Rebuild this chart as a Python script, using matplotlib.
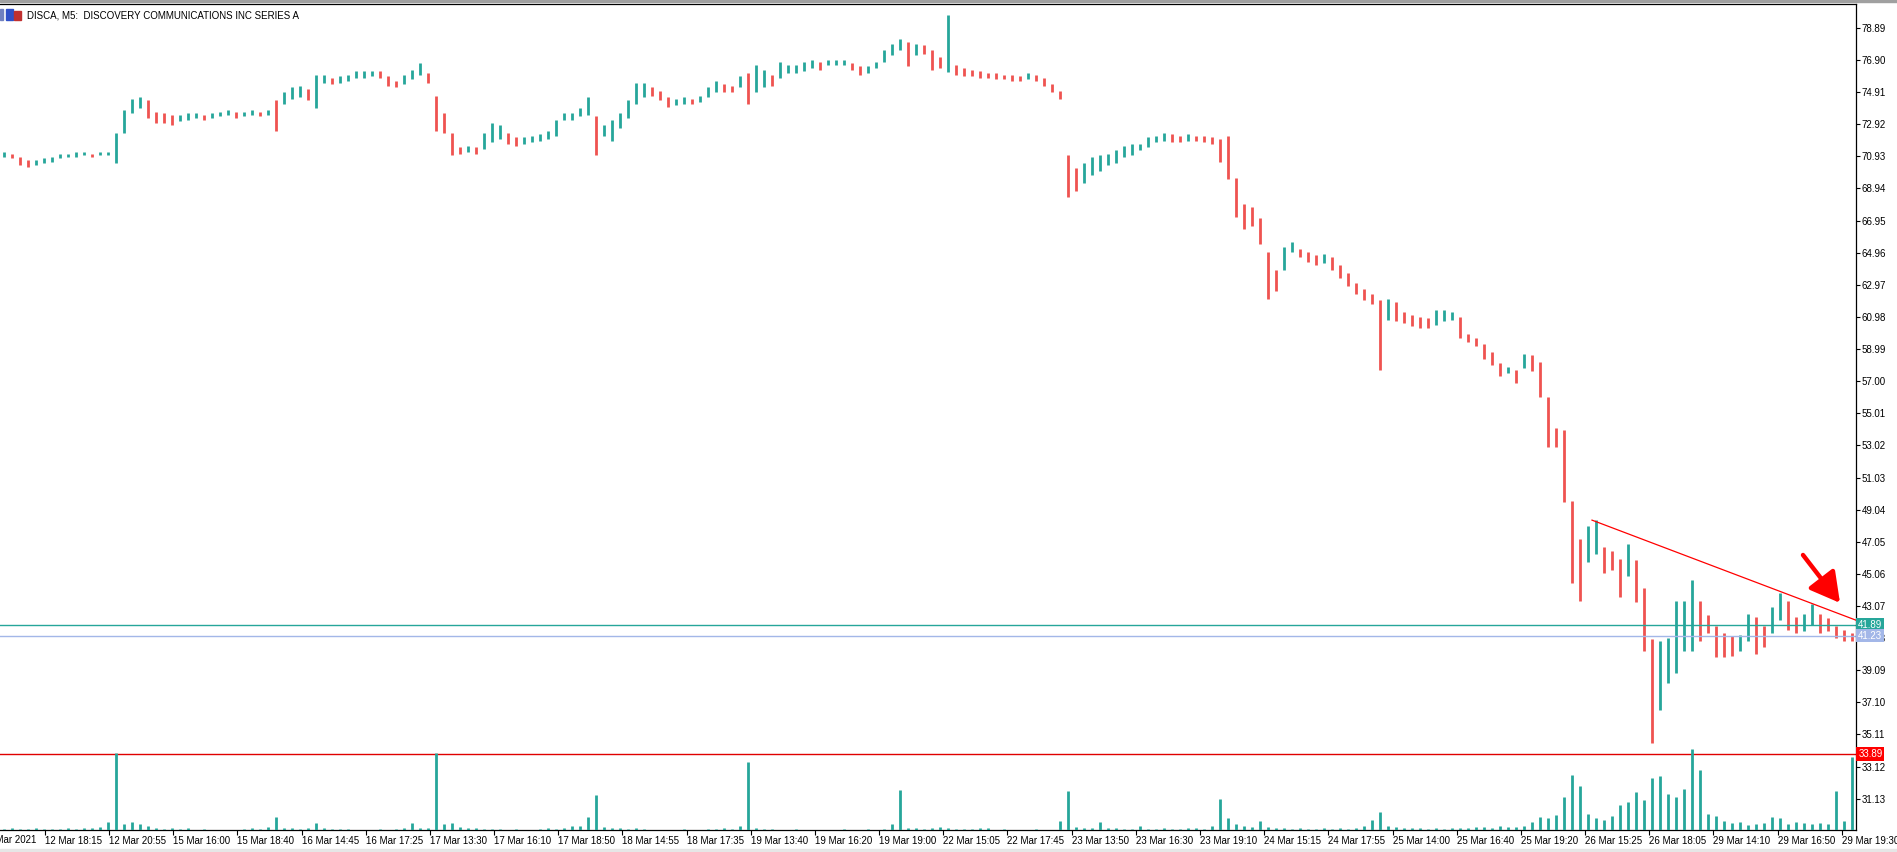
import numpy as np
import matplotlib.pyplot as plt
from matplotlib.patches import Rectangle

plt.rcParams['font.family'] = ['Liberation Sans', 'DejaVu Sans']

# 20-minute bars (4 x M5): low / high of each bar
lo = [
    70.9, 70.8, 70.4, 70.3, 70.4, 70.5, 70.6, 70.8, 70.9, 70.9,
    71.0, 70.9, 71.0, 71.0, 70.5, 72.4, 73.6, 73.9, 73.3, 73.0,
    73.0, 72.9, 73.1, 73.2, 73.3, 73.2, 73.3, 73.4, 73.5, 73.3,
    73.4, 73.5, 73.4, 73.5, 72.5, 74.2, 74.5, 74.6, 74.4, 73.9,
    75.5, 75.4, 75.5, 75.6, 75.8, 75.8, 75.9, 75.8, 75.3, 75.2,
    75.4, 75.7, 76.0, 75.5, 72.5, 72.4, 71.0, 71.1, 71.2, 71.1,
    71.4, 71.8, 72.0, 71.7, 71.6, 71.7, 71.8, 71.9, 72.0, 72.2,
    73.2, 73.2, 73.4, 73.5, 71.0, 72.2, 71.9, 72.7, 73.3, 74.2,
    74.6, 74.7, 74.4, 74.0, 74.1, 74.2, 74.2, 74.3, 74.6, 74.9,
    74.9, 74.9, 75.2, 74.2, 74.9, 75.2, 75.3, 75.8, 76.1, 76.1,
    76.2, 76.4, 76.3, 76.6, 76.6, 76.6, 76.3, 76.0, 76.1, 76.4,
    76.8, 77.2, 77.5, 76.5, 77.2, 77.3, 76.3, 76.4, 76.15, 76.0,
    75.9, 75.9, 75.8, 75.8, 75.7, 75.7, 75.6, 75.6, 75.7, 75.6,
    75.3, 74.9, 74.5, 68.4, 68.8, 69.3, 69.8, 70.0, 70.4, 70.5,
    70.9, 71.0, 71.3, 71.5, 71.8, 71.9, 71.8, 71.8, 71.9, 71.9,
    71.8, 71.7, 70.6, 69.5, 67.2, 66.4, 66.6, 65.5, 62.1, 62.6,
    63.9, 65.0, 64.7, 64.4, 64.2, 64.3, 63.9, 63.4, 62.9, 62.4,
    62.0, 61.8, 57.7, 60.8, 60.7, 60.6, 60.4, 60.3, 60.3, 60.5,
    60.7, 60.8, 59.7, 59.4, 59.2, 58.4, 58.0, 57.3, 57.5, 56.9,
    57.8, 57.6, 56.0, 52.9, 52.9, 49.5, 44.5, 43.4, 45.8, 46.3,
    45.1, 45.3, 43.6, 44.9, 43.3, 40.3, 34.6, 36.6, 38.3, 38.9,
    40.3, 40.3, 40.9, 41.4, 39.9, 39.9, 40.0, 40.3, 40.9, 40.1,
    40.5, 41.4, 42.2, 41.6, 41.4, 41.5, 41.9, 41.4, 41.5, 41.1,
    40.9, 40.9]
hi = [
    71.2, 71.1, 70.9, 70.7, 70.7, 70.8, 70.9, 71.1, 71.1, 71.2,
    71.2, 71.1, 71.2, 71.2, 72.4, 73.8, 74.5, 74.6, 74.4, 73.7,
    73.6, 73.5, 73.5, 73.6, 73.6, 73.5, 73.6, 73.7, 73.8, 73.7,
    73.7, 73.8, 73.7, 73.8, 74.4, 74.9, 75.2, 75.3, 75.1, 76.0,
    76.0, 75.8, 75.9, 76.0, 76.2, 76.2, 76.2, 76.2, 75.9, 75.6,
    76.0, 76.3, 76.7, 76.1, 74.7, 73.6, 72.4, 71.5, 71.6, 71.5,
    72.4, 73.0, 72.9, 72.4, 72.1, 72.1, 72.2, 72.3, 72.5, 73.2,
    73.6, 73.6, 73.9, 74.6, 73.4, 72.9, 73.2, 73.6, 74.4, 75.5,
    75.5, 75.2, 75.0, 74.6, 74.5, 74.6, 74.5, 74.7, 75.2, 75.6,
    75.4, 75.3, 75.9, 76.1, 76.6, 76.3, 76.0, 76.8, 76.6, 76.6,
    76.8, 76.9, 76.8, 76.9, 76.9, 76.9, 76.7, 76.5, 76.5, 76.8,
    77.5, 77.9, 78.2, 78.0, 77.9, 77.8, 77.5, 77.1, 79.7, 76.6,
    76.4, 76.3, 76.2, 76.1, 76.1, 76.0, 76.0, 75.9, 76.1, 76.0,
    75.8, 75.4, 75.0, 71.0, 70.2, 70.5, 70.9, 71.0, 71.1, 71.3,
    71.6, 71.7, 71.7, 72.1, 72.2, 72.4, 72.3, 72.2, 72.3, 72.2,
    72.2, 72.1, 72.0, 72.2, 69.6, 68.0, 67.8, 67.1, 65.0, 63.9,
    65.3, 65.6, 65.2, 65.0, 64.8, 64.9, 64.7, 64.2, 63.7, 63.1,
    62.7, 62.4, 62.0, 62.1, 61.9, 61.3, 61.1, 61.0, 60.9, 61.4,
    61.4, 61.3, 61.0, 59.9, 59.7, 59.3, 58.8, 58.1, 57.9, 57.7,
    58.7, 58.6, 58.2, 56.0, 54.1, 54.0, 49.6, 47.2, 48.0, 48.4,
    46.7, 46.5, 46.0, 46.9, 45.9, 44.2, 41.0, 40.9, 41.1, 43.4,
    43.4, 44.7, 43.4, 42.5, 41.8, 41.4, 41.2, 41.3, 42.6, 42.4,
    41.8, 43.0, 43.9, 43.4, 42.4, 42.6, 43.2, 42.6, 42.3, 41.8,
    41.6, 41.4]
# tick volume per bar (relative)
vol = [
    1, 2, 1, 1, 2, 1, 1, 1, 2, 1,
    2, 2, 3, 8, 77, 6, 8, 6, 4, 2,
    1, 2, 1, 2, 0, 1, 0, 0, 0, 0,
    1, 2, 1, 3, 13, 2, 2, 1, 2, 7,
    2, 1, 1, 1, 0, 0, 0, 1, 0, 1,
    2, 7, 2, 2, 77, 6, 7, 3, 2, 2,
    1, 1, 1, 0, 1, 0, 0, 1, 2, 1,
    2, 4, 4, 13, 35, 3, 2, 2, 1, 2,
    1, 0, 0, 0, 0, 1, 0, 0, 1, 1,
    2, 1, 4, 68, 2, 1, 1, 0, 0, 1,
    0, 0, 0, 0, 0, 1, 0, 0, 1, 0,
    1, 6, 40, 2, 2, 1, 2, 3, 2, 1,
    1, 1, 2, 2, 0, 1, 0, 0, 0, 1,
    0, 0, 9, 39, 3, 2, 2, 8, 2, 2,
    1, 1, 4, 1, 1, 2, 1, 1, 2, 2,
    1, 4, 31, 12, 6, 4, 3, 9, 3, 2,
    2, 1, 2, 1, 1, 2, 1, 2, 1, 2,
    4, 10, 18, 4, 3, 2, 2, 2, 1, 2,
    1, 2, 2, 2, 3, 3, 2, 4, 3, 3,
    4, 8, 13, 12, 15, 33, 55, 44, 16, 12,
    10, 14, 25, 28, 38, 30, 52, 54, 36, 33,
    41, 81, 60, 16, 14, 9, 7, 8, 5, 6,
    7, 13, 12, 6, 8, 7, 6, 7, 6, 39,
    9, 73]

date_labels = ["12 Mar 2021", "12 Mar 18:15", "12 Mar 20:55", "15 Mar 16:00", "15 Mar 18:40",
               "16 Mar 14:45", "16 Mar 17:25", "17 Mar 13:30", "17 Mar 16:10", "17 Mar 18:50",
               "18 Mar 14:55", "18 Mar 17:35", "19 Mar 13:40", "19 Mar 16:20", "19 Mar 19:00",
               "22 Mar 15:05", "22 Mar 17:45", "23 Mar 13:50", "23 Mar 16:30", "23 Mar 19:10",
               "24 Mar 15:15", "24 Mar 17:55", "25 Mar 14:00", "25 Mar 16:40", "25 Mar 19:20",
               "26 Mar 15:25", "26 Mar 18:05", "29 Mar 14:10", "29 Mar 16:50", "29 Mar 19:30"]

bid, last, level = 41.89, 41.23, 33.89
trend_x, trend_y = [796, 928], [48.39, 42.19]

TEAL = '#26a69a'
RED = '#ef5350'

lo = np.array(lo)
hi = np.array(hi)
vol = np.array(vol)
n = len(lo)
xs = np.arange(n) * 4 + 2          # x axis counted in M5 bars
mid = (lo + hi) / 2
up = np.r_[True, mid[1:] >= mid[:-1]]
cols = np.where(up, TEAL, RED)

W, H = 1897, 852
fig = plt.figure(figsize=(W / 100, H / 100), dpi=100)
ax = fig.add_axes([0, 22 / H, 1856 / W, 826 / H])

ax.vlines(xs, lo, hi, colors=cols, linewidth=2.0)

ax.axhline(bid, color=TEAL, lw=1.0)
ax.axhline(last, color='#a3b7e8', lw=1.0)
ax.axhline(level, color='#e00000', lw=1.0)
ax.plot(trend_x, trend_y, color='#ff0000', lw=0.9)
ax.annotate('', xy=(920, 43.26), xytext=(901.5, 46.23),
            arrowprops=dict(arrowstyle='-|>,head_length=0.9,head_width=0.5',
                            color='#ff0000', lw=3.2, mutation_scale=20,
                            shrinkA=0, shrinkB=0))

ax.set_xlim(0, 928)
ax.set_ylim(29.19, 80.37)

# volumes on their own scale at the bottom of the window
vax = ax.twinx()
vax.vlines(xs[vol > 0], 0, vol[vol > 0], colors=TEAL, linewidth=2.0)
vax.set_ylim(0, 826)
vax.set_axis_off()

yt = [78.89 - 1.99 * k for k in range(25)]
ax.set_yticks(yt)
ax.set_yticklabels(['%.2f' % v for v in yt])
ax.yaxis.tick_right()
ax.tick_params(axis='y', direction='out', length=3, width=0.8, pad=1, labelsize=7)

tick_px = [1841.7 - (29 - k) * 64.17 for k in range(len(date_labels))]
tick_x = [p / 2 for p in tick_px]
ax.set_xticks(tick_x[1:])
ax.set_xticklabels(date_labels[1:], ha='left')
ax.tick_params(axis='x', direction='out', length=3.5, width=0.8, pad=0.5, labelsize=7)
ax.text(tick_x[0] + 0.5, -0.006, date_labels[0], transform=ax.get_xaxis_transform(),
        ha='left', va='top', fontsize=7, clip_on=False)

for s in ['top', 'right', 'bottom']:
    ax.spines[s].set_color('black')
    ax.spines[s].set_linewidth(0.9)
ax.spines['left'].set_visible(False)

for val, bg in [(bid, TEAL), (last, '#a3b7e8'), (level, '#ff0000')]:
    ax.text(1.0012, val, '%.2f' % val, transform=ax.get_yaxis_transform(),
            ha='left', va='center', fontsize=7, color='white',
            bbox=dict(boxstyle='square,pad=0.18', fc=bg, ec='none'))

# window header
fig.patches.append(Rectangle((0, 1 - 2 / H), 1, 2 / H, transform=fig.transFigure,
                             color='#a0a0a0'))
fig.patches.append(Rectangle((0, 0), 1, 3 / H, transform=fig.transFigure, color='#e6e6e6'))
fig.patches.append(Rectangle((0, 1 - 20 / H), 3 / W, 11 / H, transform=fig.transFigure,
                             color='#7080c0'))
fig.patches.append(Rectangle((6 / W, 1 - 20 / H), 7 / W, 11 / H, transform=fig.transFigure,
                             color='#3050c8'))
fig.patches.append(Rectangle((14 / W, 1 - 20 / H), 7 / W, 9 / H, transform=fig.transFigure,
                             color='#c03030'))
fig.text(27 / W, 1 - 15 / H, 'DISCA, M5:  DISCOVERY COMMUNICATIONS INC SERIES A',
         fontsize=7, va='center', ha='left')

fig.savefig('out.png', dpi=100)
